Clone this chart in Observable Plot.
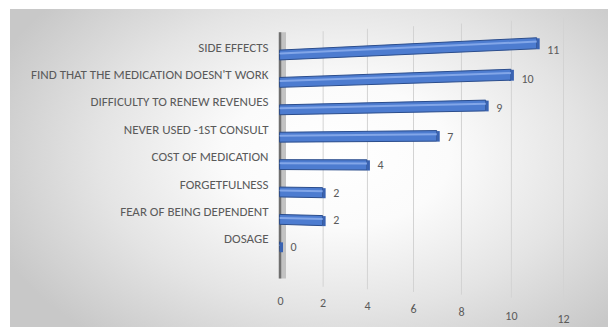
<!DOCTYPE html>
<html>
<head>
<meta charset="utf-8">
<script src="https://cdn.jsdelivr.net/npm/d3@7"></script>
<script src="https://cdn.jsdelivr.net/npm/@observablehq/plot@0.6"></script>
<style>
  html, body { margin: 0; padding: 0; background: #ffffff; }
  #wrap { position: relative; width: 608px; height: 327px; overflow: hidden; background: #ffffff; }
  #panel {
    position: absolute; left: 10px; top: 9px; width: 598px; height: 318px;
    background: radial-gradient(ellipse 62% 75% at 55% 46%, #ffffff 0%, #fbfbfb 30%, #e4e4e4 65%, #c8c8c8 100%);
  }
  #chart { position: absolute; left: 0; top: 0; }
</style>
</head>
<body>
<div id="wrap"><div id="panel"></div><div id="chart"></div></div>
<script>
// ---- data ----
const categories = [
  "SIDE EFFECTS",
  "FIND THAT THE MEDICATION DOESN'T WORK",
  "DIFFICULTY TO RENEW REVENUES",
  "NEVER USED -1ST CONSULT",
  "COST OF MEDICATION",
  "FORGETFULNESS",
  "FEAR OF BEING DEPENDENT",
  "DOSAGE"
];
const values = [11, 10, 9, 7, 4, 2, 2, 0];
const ticks = [0, 2, 4, 6, 8, 10, 12];

// ---- 3D view (perspective of the original Excel chart) ----
const B = 0.00944;          // perspective strength along the value axis
const horizon = 3.69;       // row (in category units) of the horizon line
const depth = v => 1 / (1 - B * v);
const px = v => v * depth(v);                        // projected value
const py = (v, r) => horizon + (r - horizon) * depth(v); // projected row
const half = 0.18;          // half bar thickness, in row units

const bars = categories.map((c, i) => ({cat: c, i, v: values[i]}));
const pts = bars.flatMap(b => [0, b.v].map(t => ({cat: b.cat, i: b.i, t})));

const font = "Carlito, Calibri, Lato, Roboto, 'Liberation Sans', sans-serif";
const textGray = "#5a5a5a";

const chart = Plot.plot({
  width: 608,
  height: 327,
  margin: 0,
  style: {background: "transparent", overflow: "visible", fontFamily: font},
  x: {type: "linear", domain: [0, px(12)], range: [280, 563], axis: null},
  y: {type: "linear", domain: [0, 8], range: [55, 55 + 27.4 * 8], axis: null},
  marks: [
    // gridlines
    Plot.link(ticks.filter(t => t > 0), {
      x1: t => px(t), x2: t => px(t),
      y1: t => py(t, -0.8), y2: t => py(t, 8.35),
      stroke: "#d3d3d3", strokeWidth: 1
    }),
    // axis wall
    Plot.link([0], {x1: 0, x2: 0, y1: -0.85, y2: 8.14, stroke: "#c2c2c2", strokeWidth: 5, dx: 3}),
    Plot.link([0], {x1: 0, x2: 0, y1: -0.85, y2: 8.14, stroke: "#6f6f6f", strokeWidth: 2.5, dx: -0.5}),
    // bars (3D-projected)
    Plot.areaY(pts, {
      x: d => px(d.t),
      y1: d => py(d.t, d.i - half),
      y2: d => py(d.t, d.i + half),
      z: "cat",
      fill: "#4d7cd0",
      stroke: "#2b4d8c",
      strokeWidth: 1
    }),
    Plot.line(pts, {
      x: d => px(d.t),
      y: d => py(d.t, d.i - half * 0.4),
      z: "cat",
      stroke: "#82a6e8",
      strokeWidth: 2
    }),
    // bar end faces
    Plot.link(bars, {
      x1: b => px(b.v), x2: b => px(b.v),
      y1: b => py(b.v, b.i - half), y2: b => py(b.v, b.i + half),
      stroke: "#3a63b2", strokeWidth: 3, dx: 1
    }),
    // value labels
    Plot.text(bars, {
      x: b => px(b.v),
      y: b => py(b.v / 2, b.i),
      text: b => String(b.v),
      dx: 10,
      textAnchor: "start",
      fontSize: 12,
      fill: textGray
    }),
    // category labels
    Plot.text(categories, {
      x: 0,
      y: (d, i) => i,
      text: d => d,
      dx: -12,
      dy: -8,
      textAnchor: "end",
      fontSize: 13,
      fill: textGray
    }),
    // value-axis tick labels
    Plot.text(ticks, {
      x: t => px(t),
      y: t => py(t, 8.95),
      text: t => String(t),
      textAnchor: "middle",
      fontSize: 12,
      fill: textGray
    })
  ]
});
document.getElementById("chart").appendChild(chart);
</script>
</body>
</html>
